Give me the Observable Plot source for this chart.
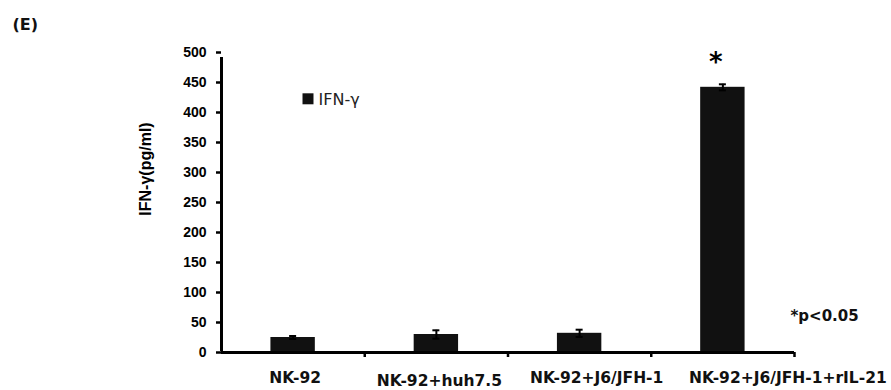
<!DOCTYPE html>
<html>
<head>
<meta charset="utf-8">
<script src="https://cdn.jsdelivr.net/npm/d3@7"></script>
<script src="https://cdn.jsdelivr.net/npm/@observablehq/plot@0.6"></script>
<style>
  body { margin: 0; background: #fff; }
  #chart { width: 891px; height: 390px; }
</style>
</head>
<body>
<div id="chart"></div>
<script>
// ---- data ----
const categories = ["NK-92", "NK-92+huh7.5", "NK-92+J6/JFH-1", "NK-92+J6/JFH-1+rIL-21"];
const values = [25, 30, 32, 442];
const errors = [2.5, 7, 6, 5];
const significance = ["", "", "", "*"];
const yTicks = [0, 50, 100, 150, 200, 250, 300, 350, 400, 450, 500];
const seriesName = "IFN-γ";
const yTitle = "IFN-γ(pg/ml)";
const note = "*p<0.05";
const panel = "(E)";

const data = categories.map((c, i) => ({c, v: values[i], e: errors[i], s: significance[i]}));

// ---- layout ----
const W = 891, H = 390, mL = 221, mR = 97, mT = 52, mB = 38;
const step = (W - mL - mR) / categories.length;
const barInset = step * 0.345;
const capInset = step / 2 - 3.5;
const ink = "#111";
const sans = "'DejaVu Sans', sans-serif";
const arial = "'Liberation Sans', Arial, sans-serif";

function labelMarks() {
  const nudge = [[2, 19], [3, 22], [17, 19], [65, 19]];
  return categories.map((c, i) => Plot.text([c], {
    x: d => d, y: 0, text: d => d,
    dx: nudge[i][0], dy: nudge[i][1],
    lineAnchor: "top", textAnchor: "middle",
    fontFamily: sans, fontWeight: "bold", fontSize: 15.5, fill: ink
  }));
}

const chart = Plot.plot({
  width: W, height: H,
  marginLeft: mL, marginRight: mR, marginTop: mT, marginBottom: mB,
  style: {background: "#fff", fontFamily: arial, fontWeight: "bold", fontSize: "14px", overflow: "visible", color: "#000"},
  x: {type: "band", domain: categories, padding: 0, round: false, axis: null},
  y: {domain: [0, 500], axis: null},
  marks: [
    Plot.barY(data, {x: "c", y: "v", fill: ink, insetLeft: barInset, insetRight: barInset}),
    Plot.ruleX(data, {x: "c", y1: d => d.v - d.e, y2: d => d.v + d.e, stroke: "#000", strokeWidth: 2}),
    Plot.tickY(data, {x: "c", y: d => d.v + d.e, stroke: "#000", strokeWidth: 2, insetLeft: capInset, insetRight: capInset}),
    Plot.tickY(data, {x: "c", y: d => d.v - d.e, stroke: "#000", strokeWidth: 2, insetLeft: capInset, insetRight: capInset}),
    // x axis line
    Plot.ruleY([0], {stroke: "#000", strokeWidth: 3}),
    // y axis line
    Plot.ruleX([categories[0]], {x: d => d, y1: 0, y2: 500, dx: -step / 2, insetBottom: -5, insetTop: -1, stroke: "#000", strokeWidth: 3}),
    // x boundary ticks
    Plot.ruleX(categories.slice(1), {x: d => d, y1: 0, y2: 0, dx: -step / 2, insetBottom: -5, stroke: "#000", strokeWidth: 2.5}),
    Plot.ruleX(categories.slice(-1), {x: d => d, y1: 0, y2: 0, dx: step / 2, insetBottom: -5, stroke: "#000", strokeWidth: 2.5}),
    // y axis ticks + labels
    Plot.axisY({ticks: yTicks, tickSize: 5, tickPadding: 10, strokeWidth: 2.5, stroke: "#000", label: null,
      fontFamily: arial, fontWeight: "bold", fontSize: 14, fill: "#000"}),
    ...labelMarks(),
    // significance star
    Plot.text(data.filter(d => d.s), {x: "c", y: d => d.v + d.e, text: "s", dx: -7, dy: -13, lineAnchor: "bottom",
      fontFamily: sans, fontWeight: "bold", fontSize: 26, fill: "#000"}),
    // y title
    Plot.text([yTitle], {frameAnchor: "left", text: d => d, rotate: -90, dx: -76, dy: -33.5,
      textAnchor: "middle", lineAnchor: "middle", fontFamily: arial, fontWeight: "bold", fontSize: 16, fill: "#000"}),
    // legend
    Plot.dot([seriesName], {frameAnchor: "top-left", dx: 86.5, dy: 46.3, symbol: "square", r: 6.2, fill: ink, stroke: null}),
    Plot.text([seriesName], {frameAnchor: "top-left", text: d => d, dx: 97, dy: 52, textAnchor: "start", lineAnchor: "bottom",
      fontFamily: sans, fontWeight: "normal", fontSize: 16, fill: "#222"}),
    // note
    Plot.text([note], {frameAnchor: "top-left", text: d => d, dx: 569, dy: 268.7, textAnchor: "start", lineAnchor: "bottom",
      fontFamily: sans, fontWeight: "bold", fontSize: 15, fill: ink}),
    // panel letter
    Plot.text([panel], {frameAnchor: "top-left", text: d => d, dx: -209, dy: -22.5, textAnchor: "start", lineAnchor: "bottom",
      fontFamily: sans, fontWeight: "bold", fontSize: 16, fill: ink})
  ]
});
document.getElementById("chart").appendChild(chart);
</script>
</body>
</html>
